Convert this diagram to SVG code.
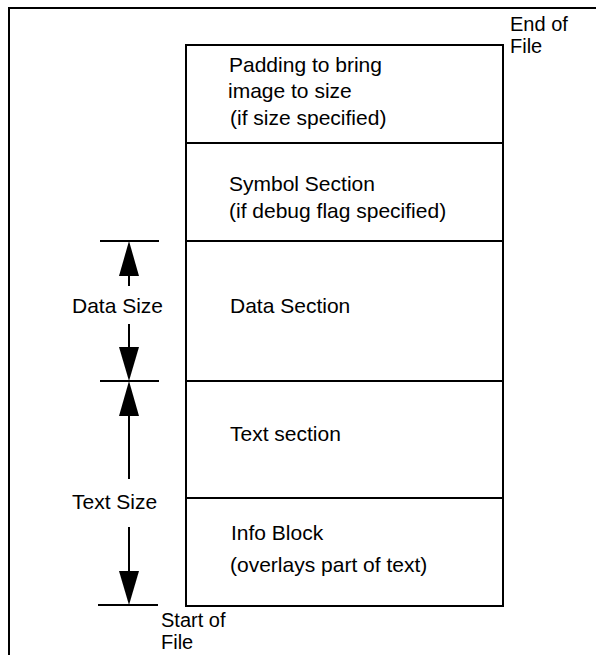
<svg xmlns="http://www.w3.org/2000/svg" width="596" height="655" viewBox="0 0 596 655">
<style>
text{font-family:"Liberation Sans",Arial,sans-serif;font-size:21px;fill:#000}
text.sm{font-size:20px}
.ln{stroke:#000;stroke-width:2;fill:none}
.sh{stroke:#000;stroke-width:2}
.ah{fill:#000}
</style>
<rect width="596" height="655" fill="#fff"/>
<g id="frame"><path class="ln" d="M9,655 V8 H596"/></g>
<g id="padding"><rect class="ln" x="186" y="45" width="317" height="98"/>
<text x="229" y="72">Padding to bring</text><text x="228" y="98">image to size</text><text x="230" y="125">(if size specified)</text></g>
<g id="symbol"><rect class="ln" x="186" y="143" width="317" height="98"/>
<text x="229" y="191">Symbol Section</text><text x="229" y="218">(if debug flag specified)</text></g>
<g id="data"><rect class="ln" x="186" y="241" width="317" height="140"/>
<text x="230" y="313">Data Section</text></g>
<g id="textsec"><rect class="ln" x="186" y="381" width="317" height="117"/>
<text x="230" y="441">Text section</text></g>
<g id="info"><rect class="ln" x="186" y="498" width="317" height="108"/>
<text x="231" y="540">Info Block</text><text x="230" y="572">(overlays part of text)</text></g>
<g id="labels">
<text class="sm" x="510" y="31">End of</text><text class="sm" x="510" y="53">File</text>
<text class="sm" x="161" y="627">Start of</text><text class="sm" x="161" y="649">File</text>
<text x="72" y="313">Data Size</text><text x="72" y="509">Text Size</text>
</g>
<g id="connectors">
<line class="sh" x1="100" y1="241" x2="159" y2="241"/>
<line class="sh" x1="100" y1="381" x2="159" y2="381"/>
<line class="sh" x1="98" y1="605" x2="158" y2="605"/>
<line class="sh" x1="129" y1="274" x2="129" y2="286"/>
<line class="sh" x1="129" y1="324" x2="129" y2="349"/>
<line class="sh" x1="129" y1="414" x2="129" y2="479"/>
<line class="sh" x1="129" y1="527" x2="129" y2="573"/>
<polygon class="ah" points="129,241 139,276 119,276"/>
<polygon class="ah" points="129,381 139,347 119,347"/>
<polygon class="ah" points="129,381 139,416 119,416"/>
<polygon class="ah" points="129,605 139,571 119,571"/>
</g>
</svg>
